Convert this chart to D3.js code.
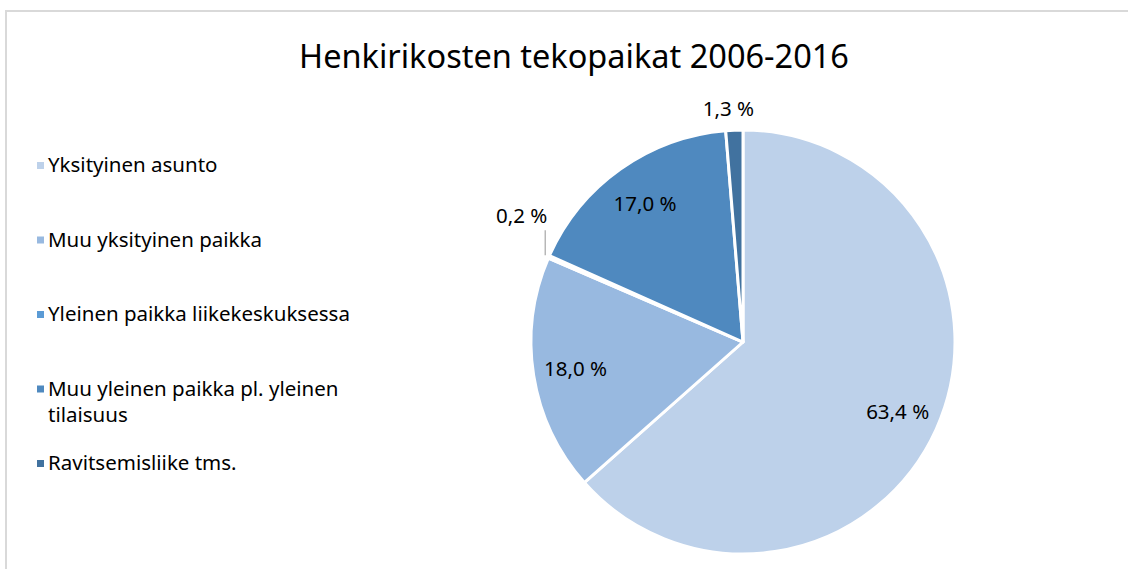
<!DOCTYPE html>
<html><head><meta charset="utf-8">
<script src="https://cdn.jsdelivr.net/npm/d3@7"></script>
<style>body{margin:0;background:#fff}svg{display:block}text{font-family:"Noto Sans","Open Sans",sans-serif;fill:#000}</style>
</head><body>
<script>
const title = "Henkirikosten tekopaikat 2006-2016";
const categories = ["Yksityinen asunto","Muu yksityinen paikka","Yleinen paikka liikekeskuksessa","Muu yleinen paikka pl. yleinen tilaisuus","Ravitsemisliike tms."];
const legendLines = [["Yksityinen asunto"],["Muu yksityinen paikka"],["Yleinen paikka liikekeskuksessa"],["Muu yleinen paikka pl. yleinen","tilaisuus"],["Ravitsemisliike tms."]];
const values = [63.4, 18.0, 0.2, 17.0, 1.3];
const labels = ["63,4 %","18,0 %","0,2 %","17,0 %","1,3 %"];
const colors = ["#BDD1EA","#98B9E0","#5B9BD5","#4F89BF","#41729F"];

const W = 1128, H = 569;
const svg = d3.select("body").append("svg").attr("width", W).attr("height", H);

// chart frame
svg.append("path").attr("d", `M6,${H} V11 H${W}`).attr("fill","none").attr("stroke","#d9d9d9").attr("stroke-width",2);

svg.append("text").attr("x", 574).attr("y", 68).attr("text-anchor","middle")
  .style("font-size","32.5px").text(title);

const cx = 743, cy = 342, r = 212;
const pie = d3.pie().sort(null).value(d => d)(values);
const arc = d3.arc().innerRadius(0).outerRadius(r);
const g = svg.append("g").attr("transform", `translate(${cx},${cy})`);
g.selectAll("path").data(pie).join("path")
  .attr("d", arc).attr("fill", (d,i) => colors[i])
  .attr("stroke","#fff").attr("stroke-width",3).attr("stroke-linejoin","round");

const inArc = d3.arc().innerRadius(r*0.8).outerRadius(r*0.8);
const edgeArc = d3.arc().innerRadius(r+4).outerRadius(r+4);
const outArc = d3.arc().innerRadius(r*1.1).outerRadius(r*1.1);
const fs = "20.5px";
pie.forEach((d,i) => {
  if (values[i] >= 5) {
    const [x,y] = inArc.centroid(d);
    g.append("text").attr("x", x).attr("y", y).attr("dy","0.35em").attr("text-anchor","middle")
      .style("font-size",fs).text(labels[i]);
  } else if (values[i] < 0.5) {
    const [x,y] = edgeArc.centroid(d);
    g.append("line").attr("x1", x).attr("y1", y).attr("x2", x).attr("y2", y-25)
      .attr("stroke","#a6a6a6").attr("stroke-width",1.2);
    g.append("text").attr("x", x+2).attr("y", y-32).attr("text-anchor","end")
      .style("font-size",fs).text(labels[i]);
  } else {
    const [x,y] = outArc.centroid(d);
    g.append("text").attr("x", x-5).attr("y", y).attr("dy","0.35em").attr("text-anchor","middle")
      .style("font-size",fs).text(labels[i]);
  }
});

// legend
const legendY = d3.scalePoint().domain(categories).range([165, 463]);
const lg = svg.append("g");
categories.forEach((c,i) => {
  const y = legendY(c);
  lg.append("rect").attr("x", 37).attr("y", y-3).attr("width", 7).attr("height", 7).attr("fill", colors[i]);
  const t = lg.append("text").attr("x", 48).attr("y", y).style("font-size",fs);
  legendLines[i].forEach((ln, j) => t.append("tspan").attr("x", 48).attr("dy", j === 0 ? "0.35em" : "26px").text(ln));
});
</script>
</body></html>
